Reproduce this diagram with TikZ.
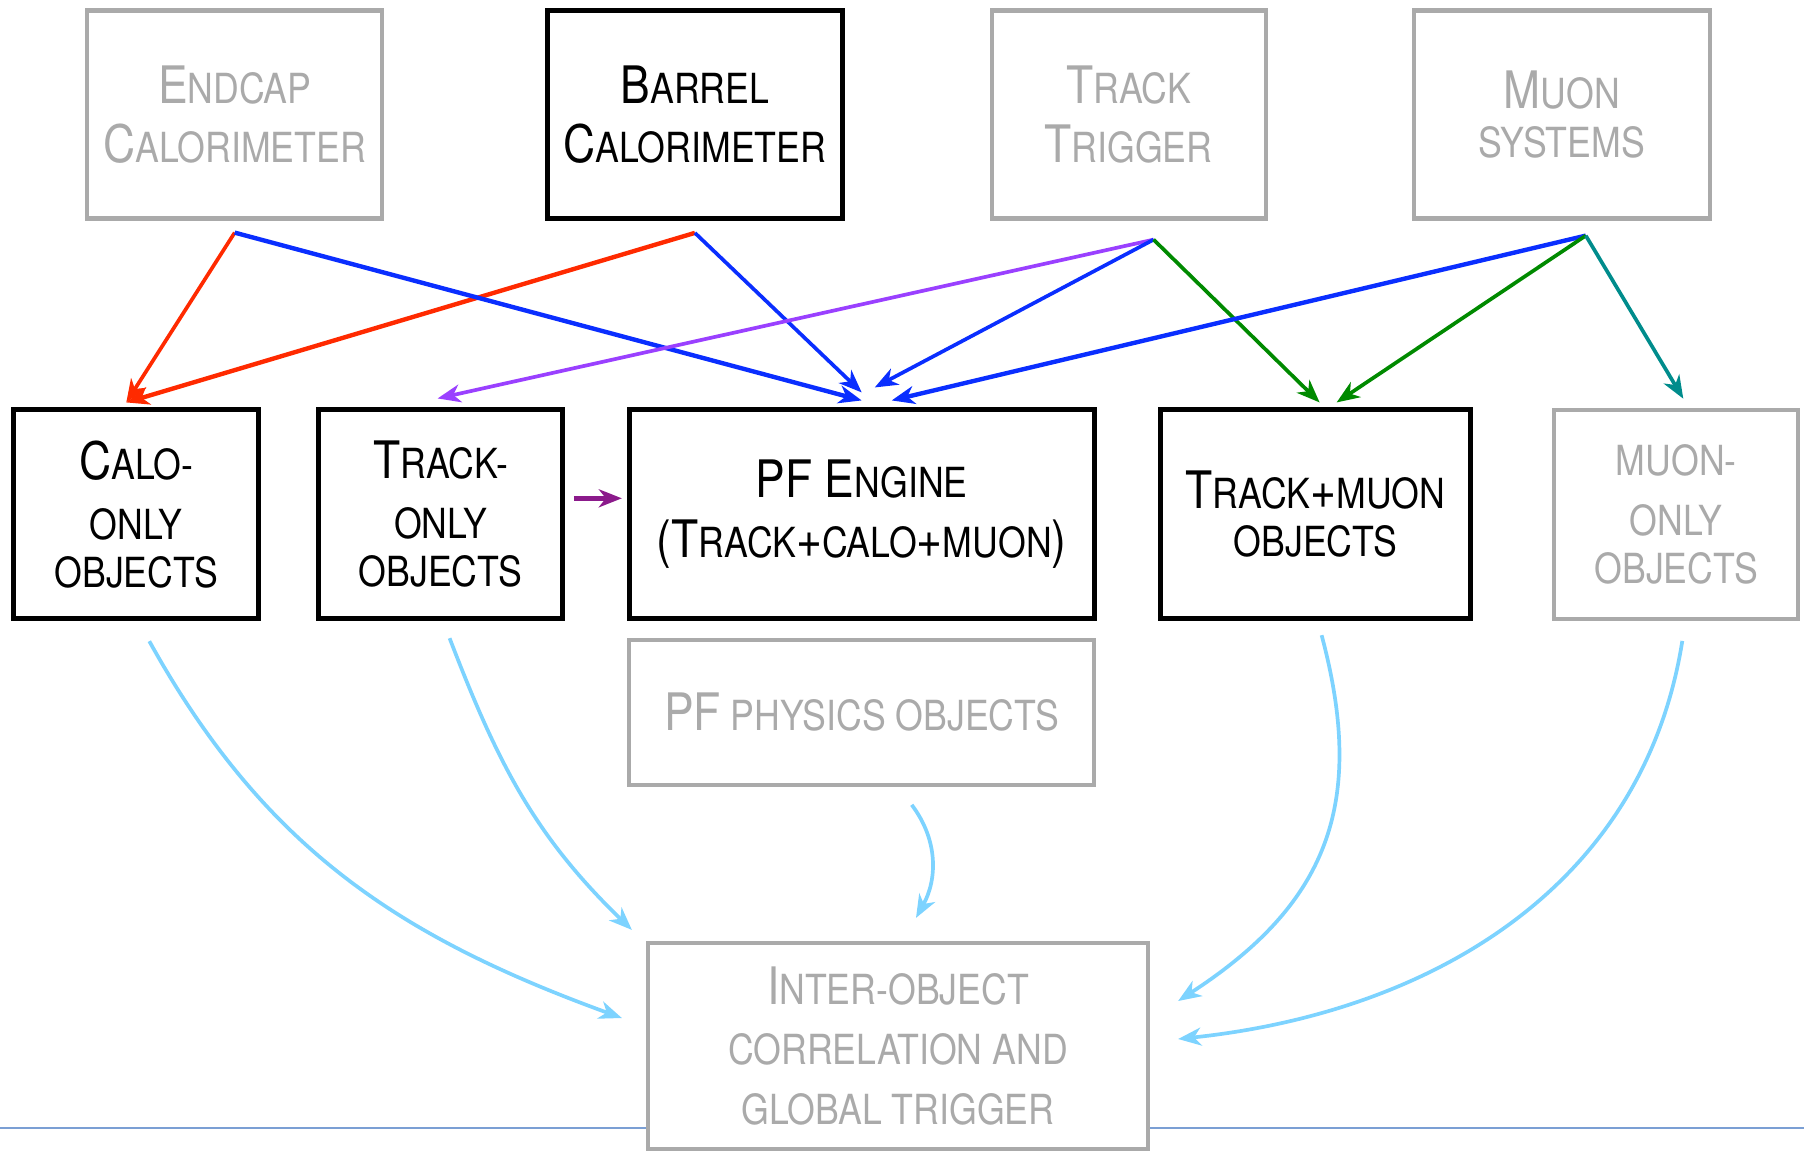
\documentclass[tikz,border=0pt]{standalone}
\usepackage{fontspec}
\setmainfont[FakeStretch=0.86]{TeX Gyre Heros}
\usepackage{tikz}
\usetikzlibrary{arrows.meta}
\pgfdeclarelayer{bg}
\pgfsetlayers{bg,main}
\definecolor{boxgray}{HTML}{AAAAAA}
\definecolor{cred}{HTML}{FF2A00}
\definecolor{cblue}{HTML}{0A2EFF}
\definecolor{cviolet}{HTML}{9A40FF}
\definecolor{cgreen}{HTML}{008A00}
\definecolor{cteal}{HTML}{008C8C}
\definecolor{cplum}{HTML}{8B1A8B}
\definecolor{csky}{HTML}{7DD3FF}
\definecolor{crule}{HTML}{7B9FD4}
\newcommand{\bigc}[1]{{\fontsize{14.7}{17}\selectfont #1}}
\tikzset{
    every node/.style={rectangle, draw, fill=white, align=center, inner sep=0mm, font=\fontsize{11.8}{17}\selectfont}
}
\tikzset{on/.style={line width=1.35pt, draw=black, text=black}}
\tikzset{off/.style={line width=1.2pt, draw=boxgray, text=boxgray}}
\tikzset{link/.style={line width=1.05pt, -{Stealth[length=2.3mm, width=1.8mm, inset=0.7mm]}}}
\tikzset{glow/.style={link, csky}}

\begin{document}
\begin{tikzpicture}
        \useasboundingbox (0,0) rectangle (18.04,-11.51);
        \node (ec) [off, minimum width=2.95cm, minimum height=2.08cm] at (2.347cm, -1.145cm) {\bigc{E}NDCAP\\\bigc{C}ALORIMETER};
        \node (bc) [on, minimum width=2.95cm, minimum height=2.08cm] at (6.949cm, -1.145cm) {\bigc{B}ARREL\\\bigc{C}ALORIMETER};
        \node (tt) [off, minimum width=2.74cm, minimum height=2.08cm] at (11.286cm, -1.145cm) {\bigc{T}RACK\\\bigc{T}RIGGER};
        \node (ms) [off, minimum width=2.96cm, minimum height=2.08cm] at (15.618cm, -1.145cm) {\bigc{M}UON\\[-3.3pt]SYSTEMS};
        \node (co) [on, minimum width=2.45cm, minimum height=2.09cm] at (1.363cm, -5.143cm) {\bigc{C}ALO-\\ONLY\\[-3.3pt]OBJECTS};
        \node (to) [on, minimum width=2.44cm, minimum height=2.09cm] at (4.406cm, -5.143cm) {\bigc{T}RACK-\\ONLY\\[-3.3pt]OBJECTS};
        \node (pf) [on, minimum width=4.65cm, minimum height=2.09cm] at (8.617cm, -5.143cm) {\bigc{PF E}NGINE\\\bigc{(T}RACK\bigc{+}CALO\bigc{+}MUON\bigc{)}};
        \node (tm) [on, minimum width=3.10cm, minimum height=2.09cm] at (13.156cm, -5.143cm) {\bigc{T}RACK\bigc{+}MUON\\[-3.3pt]OBJECTS};
        \node (mo) [off, minimum width=2.44cm, minimum height=2.09cm] at (16.763cm, -5.143cm) {MUON-\\ONLY\\[-3.3pt]OBJECTS};
        \node (pp) [off, minimum width=4.65cm, minimum height=1.45cm] at (8.617cm, -7.122cm) {\bigc{PF} PHYSICS OBJECTS};
        \node (gt) [off, minimum width=5.00cm, minimum height=2.06cm] at (8.980cm, -10.460cm) {\bigc{I}NTER-OBJECT\\CORRELATION AND\\GLOBAL TRIGGER};
        \coordinate (ec-out) at ([yshift=-1.2mm]ec.south);
        \coordinate (bc-out) at ([yshift=-1.2mm]bc.south);
        \coordinate (tt-out) at ([xshift=2.5mm, yshift=-1.9mm]tt.south);
        \coordinate (ms-out) at ([xshift=2.4mm, yshift=-1.5mm]ms.south);
        \coordinate (co-in) at ([xshift=-1mm, yshift=0.5mm]co.north);
        \coordinate (to-in) at ([xshift=-0.3mm, yshift=0.9mm]to.north);
        \coordinate (pf-in1) at ([yshift=0.7mm]pf.north);
        \coordinate (pf-in2) at ([yshift=1.5mm]pf.north);
        \coordinate (pf-in3) at ([xshift=1.3mm, yshift=2mm]pf.north);
        \coordinate (pf-in4) at ([xshift=3mm, yshift=0.7mm]pf.north);
        \coordinate (tm-in1) at ([xshift=0.4mm, yshift=0.5mm]tm.north);
        \coordinate (tm-in2) at ([xshift=2.1mm, yshift=0.5mm]tm.north);
        \coordinate (mo-in) at ([xshift=0.7mm, yshift=0.9mm]mo.north);
        \coordinate (to-out) at ([xshift=0.9mm, yshift=1.6mm]to.east);
        \coordinate (pf-in5) at ([xshift=-0.5mm, yshift=1.6mm]pf.west);
        \coordinate (co-out) at ([xshift=1.3mm, yshift=-2mm]co.south);
        \coordinate (to-out2) at ([xshift=0.9mm, yshift=-1.7mm]to.south);
        \coordinate (pp-out) at ([xshift=5mm, yshift=-1.8mm]pp.south);
        \coordinate (tm-out) at ([xshift=0.6mm, yshift=-1.4mm]tm.south);
        \coordinate (mo-out) at ([xshift=0.6mm, yshift=-2mm]mo.south);
        \coordinate (gt-in1) at ([xshift=-2.4mm, yshift=2.8mm]gt.west);
        \coordinate (gt-in2) at ([xshift=-1.4mm, yshift=1.1mm]gt.north west);
        \coordinate (gt-in3) at ([xshift=1.8mm, yshift=2.3mm]gt.north);
        \coordinate (gt-in4) at ([xshift=2.8mm, yshift=4.5mm]gt.east);
        \coordinate (gt-in5) at ([xshift=2.8mm, yshift=0.7mm]gt.east);
        \coordinate (r0) at (0, -11.28);
        \coordinate (r1) at (18.04, -11.28);
        \begin{pgfonlayer}{bg}
                \draw [crule, line width=0.7pt] (r0) -- (r1);
                \draw (ec-out) edge [link, cred] (co-in);
                \draw (bc-out) edge [link, cred, line width=1.25pt] (co-in);
                \draw (ec-out) edge [link, cblue, line width=1.25pt] (pf-in1);
                \draw (bc-out) edge [link, cblue] (pf-in2);
                \draw (tt-out) edge [link, cviolet] (to-in);
                \draw (tt-out) edge [link, cblue] (pf-in3);
                \draw (tt-out) edge [link, cgreen] (tm-in1);
                \draw (ms-out) edge [link, cblue, line width=1.25pt] (pf-in4);
                \draw (ms-out) edge [link, cgreen] (tm-in2);
                \draw (ms-out) edge [link, cteal] (mo-in);
                \draw (to-out) edge [link, cplum, line width=1.3pt] (pf-in5);
                \draw (co-out) edge [glow, out=-61, in=160] (gt-in1);
                \draw (to-out2) edge [glow, out=-69, in=136] (gt-in2);
                \draw (pp-out) edge [glow, out=-53, in=61] (gt-in3);
                \draw (tm-out) edge [glow, out=-75, in=33, looseness=1.15] (gt-in4);
                \draw (mo-out) edge [glow, out=-99, in=6] (gt-in5);
        \end{pgfonlayer}
\end{tikzpicture}
\end{document}
